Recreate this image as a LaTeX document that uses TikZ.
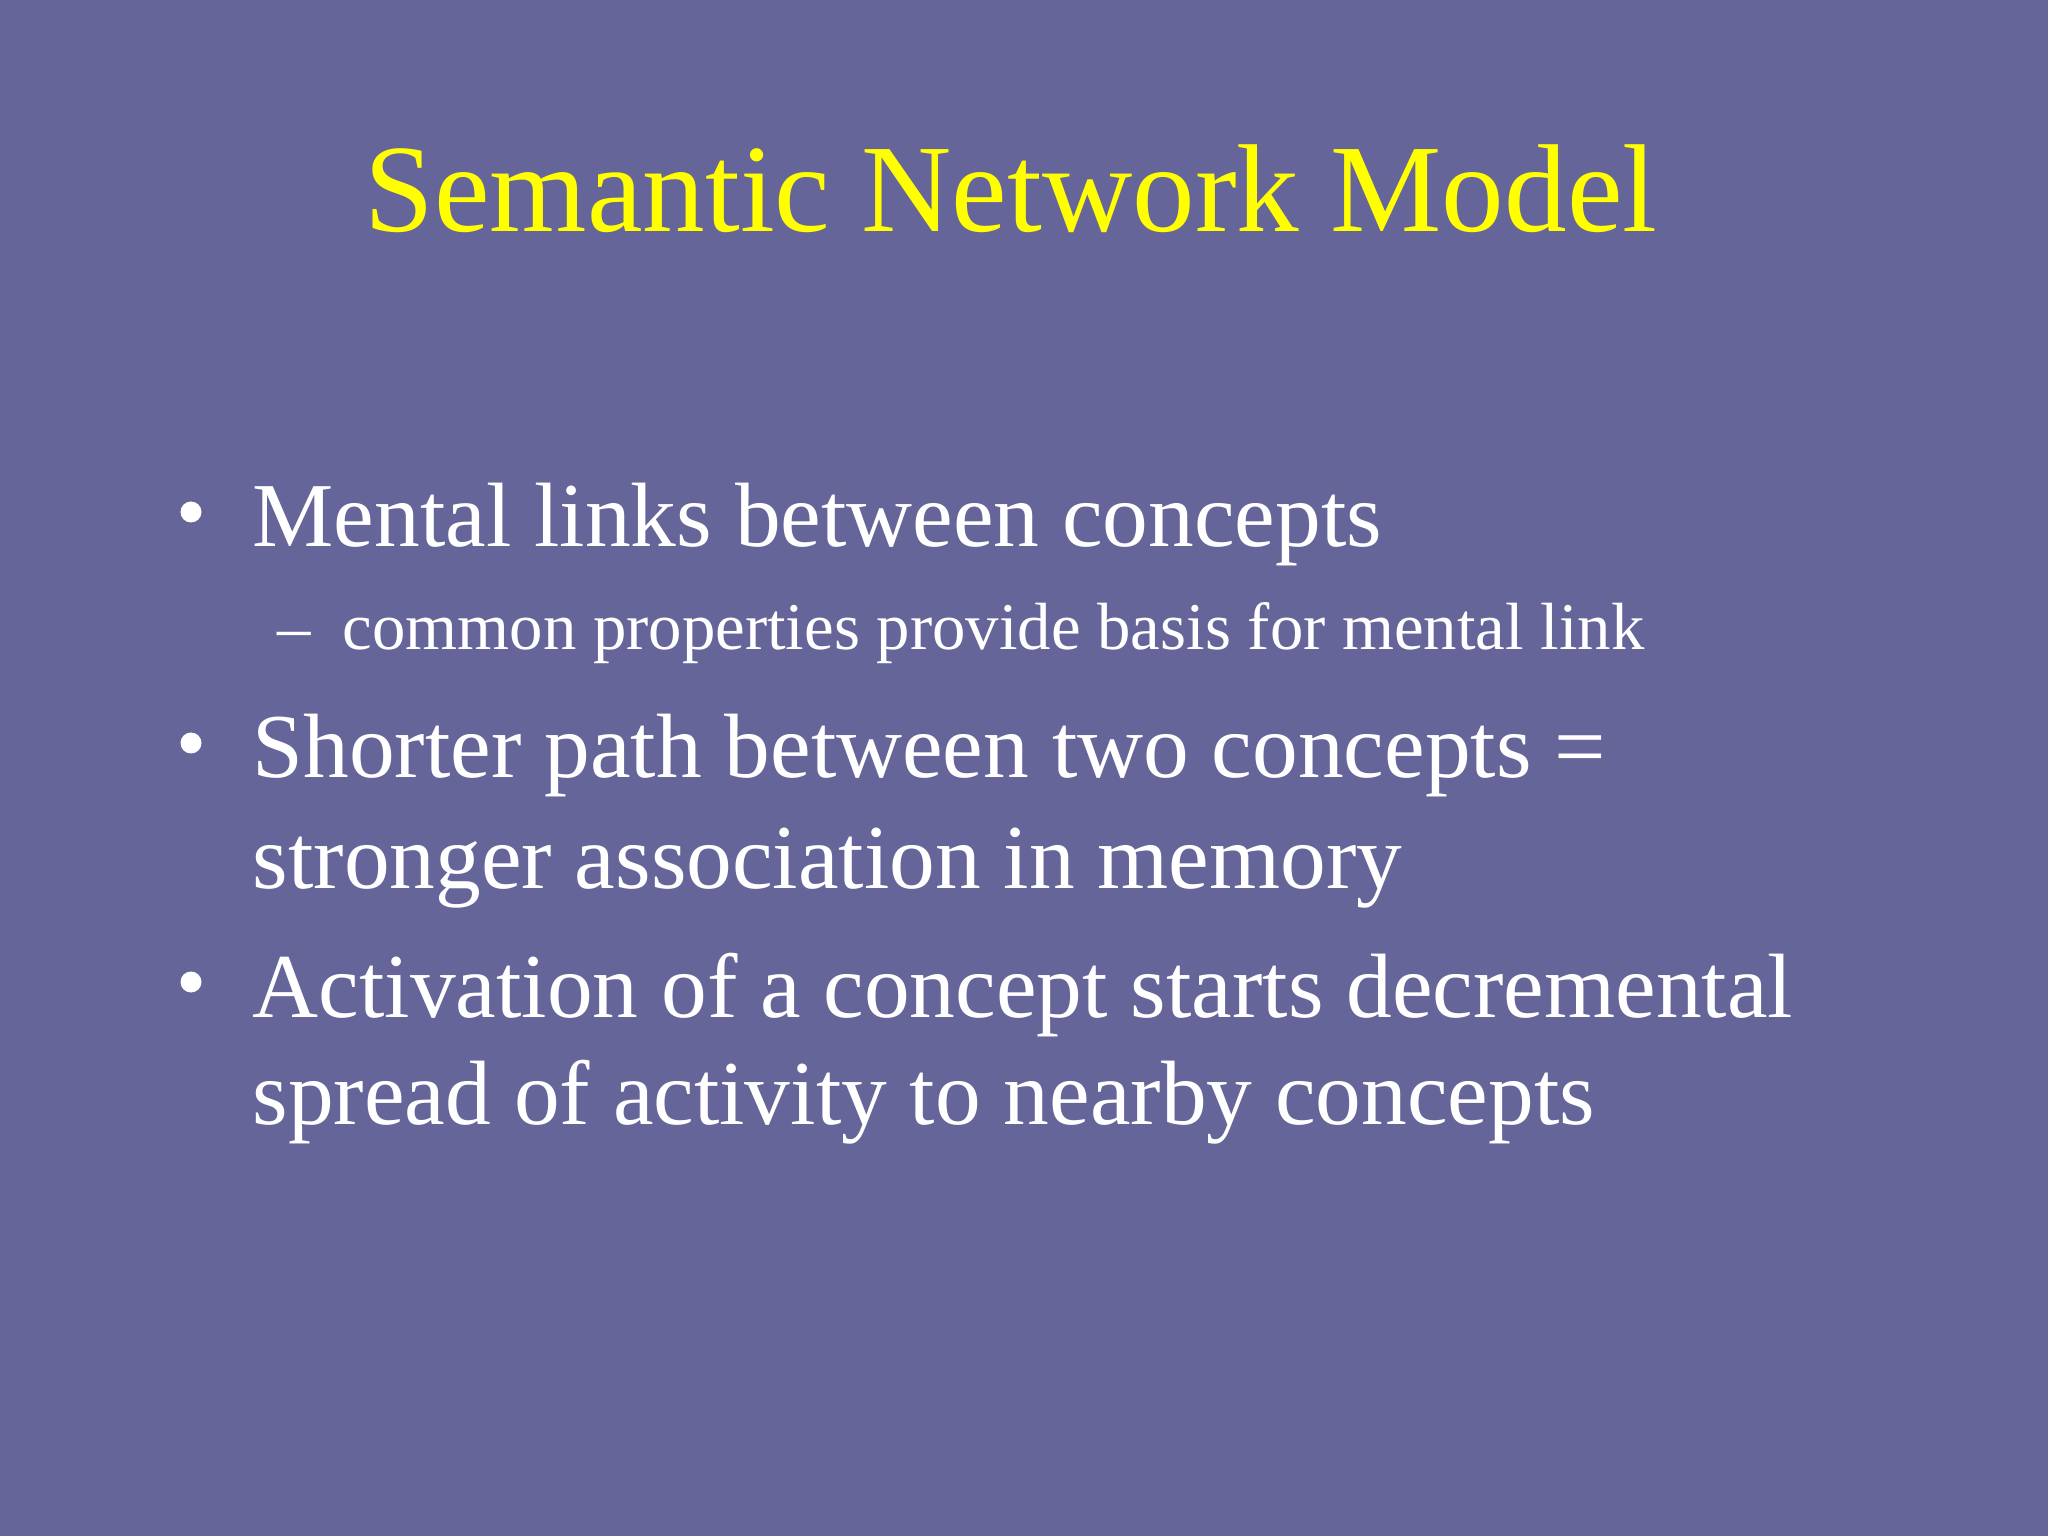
\documentclass[tikz,border=0pt]{standalone}
\usepackage{fontspec}
\setmainfont{Liberation Serif}
\definecolor{bg}{HTML}{66659A}
\definecolor{ttl}{HTML}{FFFF00}
\begin{document}
\begin{tikzpicture}[x=1cm,y=-1cm,
  body/.style={anchor=base west,inner sep=0pt,text=white,font=\fontsize{26}{31}\selectfont},
  sub/.style={anchor=base west,inner sep=0pt,text=white,font=\fontsize{19}{23}\selectfont},
  dot/.style={circle,fill=white,inner sep=0pt,minimum size=0.21cm}]
\fill[bg] (0,0) rectangle (20.48,15.36);
\useasboundingbox (0,0) rectangle (20.48,15.36);
\node[anchor=base,inner sep=0pt,text=ttl,font=\fontsize{35.6}{42}\selectfont] (title) at (10.11,2.32) {Semantic Network Model};
\node[dot] (b1) at (1.91,5.12) {};
\node[body] (t1) at (2.52,5.46) {Mental links between concepts};
\node[sub] (d1) at (2.77,6.50) {–};
\node[sub] (s1) at (3.42,6.50) {common properties provide basis for mental link};
\node[dot] (b2) at (1.91,7.43) {};
\node[body] (t2) at (2.52,7.78) {Shorter path between two concepts =};
\node[body] (t2b) at (2.52,8.88) {stronger association in memory};
\node[dot] (b3) at (1.91,9.82) {};
\node[body] (t3) at (2.52,10.17) {Activation of a concept starts decremental};
\node[body] (t3b) at (2.52,11.24) {spread of activity to nearby concepts};
\end{tikzpicture}
\end{document}
